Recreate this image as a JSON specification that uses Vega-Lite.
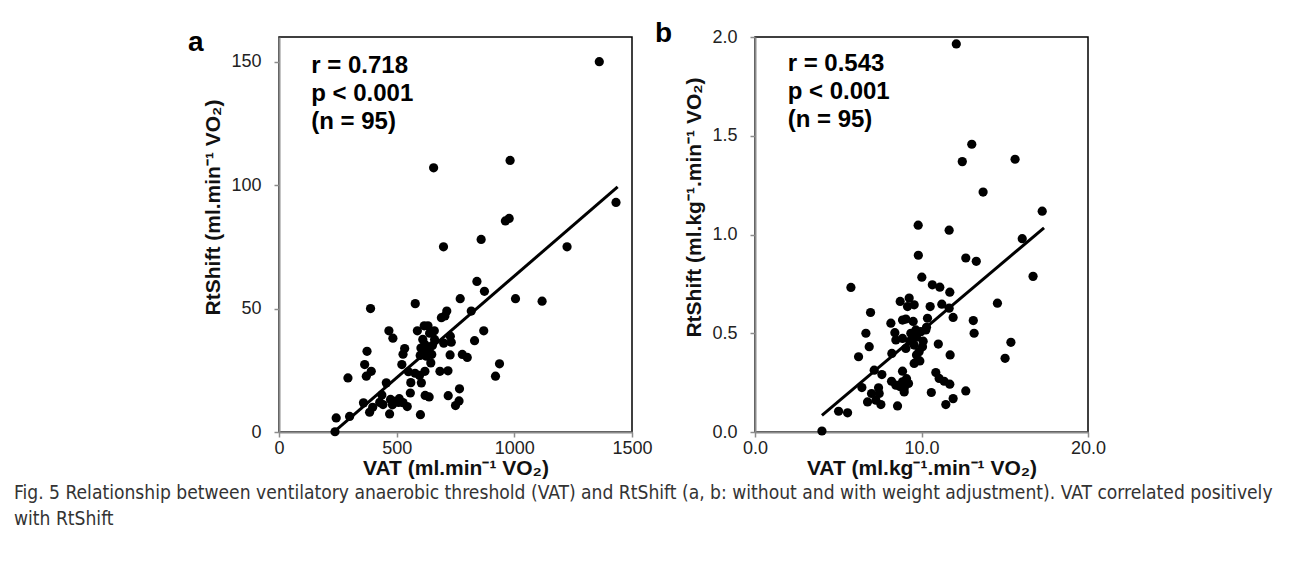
{
  "$schema": "https://vega.github.io/schema/vega-lite/v6.json",
  "padding": {"left": 14, "top": 19, "right": 5, "bottom": 4},
  "title": {
    "text": ["Fig. 5 Relationship between ventilatory anaerobic threshold (VAT) and RtShift (a, b: without and with weight adjustment). VAT correlated positively", "with RtShift"],
    "orient": "bottom", "anchor": "start", "frame": "group", "dx": -265, "offset": 5,
    "font": "DejaVu Sans Condensed, Open Sans", "fontSize": 19.1, "fontWeight": "normal", "color": "#333", "lineHeight": 26
  },
  "spacing": 1,
  "hconcat": [
    {
      "width": 353, "height": 395,
      "title": {"text": "a", "anchor": "start", "frame": "bounds", "orient": "top", "fontSize": 28, "fontWeight": "bold", "offset": -20, "dx": -15, "color": "#000"},
      "layer": [
        {
          "data": {"values": [
            {"vat":1361,"rtshift":150},{"vat":657,"rtshift":107},{"vat":982,"rtshift":110},{"vat":1432,"rtshift":93},
            {"vat":962,"rtshift":85.5},{"vat":978,"rtshift":86.5},{"vat":859,"rtshift":78},{"vat":699,"rtshift":75},
            {"vat":1224,"rtshift":75},{"vat":841,"rtshift":61},{"vat":873,"rtshift":57},{"vat":1005,"rtshift":54},
            {"vat":1118,"rtshift":53},{"vat":770,"rtshift":54},{"vat":579,"rtshift":52},{"vat":389,"rtshift":50},
            {"vat":713,"rtshift":49},{"vat":817,"rtshift":49},{"vat":690,"rtshift":46.3},{"vat":705,"rtshift":47},
            {"vat":633,"rtshift":43},{"vat":588,"rtshift":41},{"vat":870,"rtshift":41},{"vat":467,"rtshift":41},
            {"vat":484,"rtshift":38},{"vat":611,"rtshift":37.5},{"vat":661,"rtshift":37.5},{"vat":619,"rtshift":35.5},
            {"vat":728,"rtshift":38.8},{"vat":732,"rtshift":36.4},{"vat":831,"rtshift":37},{"vat":374,"rtshift":32.7},
            {"vat":534,"rtshift":33.8},{"vat":527,"rtshift":31.5},{"vat":626,"rtshift":33.4},{"vat":626,"rtshift":30.7},
            {"vat":649,"rtshift":31.4},{"vat":727,"rtshift":31.2},{"vat":779,"rtshift":31.4},{"vat":800,"rtshift":30.2},
            {"vat":364,"rtshift":27.3},{"vat":522,"rtshift":27.3},{"vat":392,"rtshift":24.6},{"vat":371,"rtshift":22.6},
            {"vat":293,"rtshift":21.9},{"vat":550,"rtshift":24.4},{"vat":578,"rtshift":23.8},{"vat":597,"rtshift":22.9},
            {"vat":620,"rtshift":24.6},{"vat":605,"rtshift":19.9},{"vat":684,"rtshift":24.6},{"vat":718,"rtshift":24.8},
            {"vat":937,"rtshift":27.6},{"vat":920,"rtshift":22.6},{"vat":456,"rtshift":19.9},{"vat":558,"rtshift":15.8},
            {"vat":621,"rtshift":14.8},{"vat":638,"rtshift":14.2},{"vat":719,"rtshift":14.7},{"vat":767,"rtshift":17.5},
            {"vat":765,"rtshift":12.6},{"vat":750,"rtshift":10.7},{"vat":437,"rtshift":15},{"vat":428,"rtshift":12},
            {"vat":442,"rtshift":11.1},{"vat":474,"rtshift":13.2},{"vat":491,"rtshift":12.4},{"vat":511,"rtshift":13.5},
            {"vat":527,"rtshift":11.9},{"vat":545,"rtshift":10.3},{"vat":359,"rtshift":11.8},{"vat":385,"rtshift":8},
            {"vat":470,"rtshift":7.3},{"vat":601,"rtshift":7},{"vat":300,"rtshift":6.3},{"vat":243,"rtshift":5.7},
            {"vat":238,"rtshift":0.1},{"vat":640,"rtshift":40},{"vat":652,"rtshift":35},{"vat":603,"rtshift":34},
            {"vat":617,"rtshift":43},{"vat":645,"rtshift":28},{"vat":660,"rtshift":41},{"vat":508,"rtshift":12},
            {"vat":398,"rtshift":10},{"vat":482,"rtshift":11},{"vat":600,"rtshift":31},{"vat":700,"rtshift":36},
            {"vat":560,"rtshift":20}
          ]},
          "mark": {"type": "circle", "size": 85, "opacity": 1, "color": "#000"},
          "encoding": {
            "x": {"field": "vat", "type": "quantitative", "scale": {"domain": [0, 1500], "nice": false}, "axis": {"values": [0, 500, 1000, 1500], "format": "d", "title": "VAT (ml.min⁻¹ VO₂)"}},
            "y": {"field": "rtshift", "type": "quantitative", "scale": {"domain": [0, 160], "nice": false}, "axis": {"values": [0, 50, 100, 150], "format": "d", "title": "RtShift (ml.min⁻¹ VO₂)"}}
          }
        },
        {
          "data": {"values": [{"vat": 243.7, "rtshift": 0.9}, {"vat": 1439, "rtshift": 99.3}]},
          "mark": {"type": "line", "color": "#000", "strokeWidth": 3},
          "encoding": {
            "x": {"field": "vat", "type": "quantitative"},
            "y": {"field": "rtshift", "type": "quantitative"}
          }
        },
        {
          "data": {"values": [{"label": "r = 0.718\np < 0.001\n(n = 95)"}]},
          "mark": {"type": "text", "align": "left", "baseline": "top", "fontSize": 24, "fontWeight": "bold", "lineBreak": "\n", "lineHeight": 28, "color": "#000"},
          "encoding": {
            "x": {"datum": 137, "type": "quantitative"},
            "y": {"datum": 153, "type": "quantitative"},
            "text": {"field": "label"}
          }
        }
      ]
    },
    {
      "width": 333, "height": 395,
      "title": {"text": "b", "anchor": "start", "frame": "bounds", "orient": "top", "fontSize": 28, "fontWeight": "bold", "offset": -20, "dx": -29, "color": "#000"},
      "layer": [
        {
          "data": {"values": [
            {"vat":12.09,"rtshift":1.965},{"vat":13.02,"rtshift":1.457},{"vat":12.45,"rtshift":1.369},{"vat":15.62,"rtshift":1.381},
            {"vat":13.70,"rtshift":1.215},{"vat":17.25,"rtshift":1.118},{"vat":9.80,"rtshift":1.047},{"vat":11.66,"rtshift":1.022},
            {"vat":16.05,"rtshift":0.979},{"vat":9.81,"rtshift":0.895},{"vat":12.66,"rtshift":0.881},{"vat":13.29,"rtshift":0.864},
            {"vat":16.70,"rtshift":0.788},{"vat":10.02,"rtshift":0.784},{"vat":5.76,"rtshift":0.732},{"vat":10.65,"rtshift":0.745},
            {"vat":11.10,"rtshift":0.733},{"vat":11.70,"rtshift":0.708},{"vat":8.72,"rtshift":0.661},{"vat":9.26,"rtshift":0.678},
            {"vat":9.56,"rtshift":0.644},{"vat":9.16,"rtshift":0.635},{"vat":10.52,"rtshift":0.635},{"vat":11.22,"rtshift":0.647},
            {"vat":11.66,"rtshift":0.627},{"vat":14.56,"rtshift":0.652},{"vat":6.94,"rtshift":0.605},{"vat":10.36,"rtshift":0.576},
            {"vat":11.90,"rtshift":0.58},{"vat":13.11,"rtshift":0.564},{"vat":8.16,"rtshift":0.551},{"vat":8.86,"rtshift":0.567},
            {"vat":9.06,"rtshift":0.572},{"vat":8.40,"rtshift":0.503},{"vat":8.46,"rtshift":0.466},{"vat":9.36,"rtshift":0.5},
            {"vat":9.66,"rtshift":0.517},{"vat":9.96,"rtshift":0.508},{"vat":10.26,"rtshift":0.517},{"vat":6.66,"rtshift":0.5},
            {"vat":13.16,"rtshift":0.5},{"vat":6.86,"rtshift":0.432},{"vat":8.86,"rtshift":0.474},{"vat":9.06,"rtshift":0.423},
            {"vat":9.56,"rtshift":0.44},{"vat":10.06,"rtshift":0.432},{"vat":11.01,"rtshift":0.445},{"vat":15.37,"rtshift":0.454},
            {"vat":6.22,"rtshift":0.381},{"vat":8.22,"rtshift":0.398},{"vat":9.70,"rtshift":0.39},{"vat":9.86,"rtshift":0.407},
            {"vat":9.56,"rtshift":0.347},{"vat":11.72,"rtshift":0.39},{"vat":15.02,"rtshift":0.373},{"vat":7.16,"rtshift":0.313},
            {"vat":7.62,"rtshift":0.291},{"vat":8.86,"rtshift":0.308},{"vat":10.86,"rtshift":0.301},{"vat":11.06,"rtshift":0.271},
            {"vat":11.36,"rtshift":0.257},{"vat":11.70,"rtshift":0.242},{"vat":6.42,"rtshift":0.225},{"vat":7.42,"rtshift":0.224},
            {"vat":7.46,"rtshift":0.195},{"vat":8.20,"rtshift":0.257},{"vat":8.46,"rtshift":0.237},{"vat":8.86,"rtshift":0.254},
            {"vat":9.22,"rtshift":0.246},{"vat":8.96,"rtshift":0.22},{"vat":8.96,"rtshift":0.203},{"vat":10.59,"rtshift":0.2},
            {"vat":12.66,"rtshift":0.208},{"vat":7.0,"rtshift":0.195},{"vat":6.76,"rtshift":0.152},{"vat":7.26,"rtshift":0.161},
            {"vat":7.56,"rtshift":0.139},{"vat":8.56,"rtshift":0.132},{"vat":11.46,"rtshift":0.139},{"vat":11.90,"rtshift":0.169},
            {"vat":5.02,"rtshift":0.105},{"vat":5.56,"rtshift":0.097},{"vat":4.02,"rtshift":0.005},{"vat":9.3,"rtshift":0.46},
            {"vat":9.7,"rtshift":0.48},{"vat":10.1,"rtshift":0.46},{"vat":9.9,"rtshift":0.36},{"vat":8.7,"rtshift":0.23},
            {"vat":9.1,"rtshift":0.27},{"vat":10.3,"rtshift":0.53},{"vat":9.5,"rtshift":0.56}
          ]},
          "mark": {"type": "circle", "size": 85, "opacity": 1, "color": "#000"},
          "encoding": {
            "x": {"field": "vat", "type": "quantitative", "scale": {"domain": [0, 20], "nice": false}, "axis": {"values": [0, 10, 20], "format": ".1f", "title": "VAT (ml.kg⁻¹.min⁻¹ VO₂)"}},
            "y": {"field": "rtshift", "type": "quantitative", "scale": {"domain": [0, 2], "nice": false}, "axis": {"values": [0, 0.5, 1, 1.5, 2], "format": ".1f", "title": "RtShift (ml.kg⁻¹.min⁻¹ VO₂)"}}
          }
        },
        {
          "data": {"values": [{"vat": 4.02, "rtshift": 0.084}, {"vat": 17.36, "rtshift": 1.034}]},
          "mark": {"type": "line", "color": "#000", "strokeWidth": 3},
          "encoding": {
            "x": {"field": "vat", "type": "quantitative"},
            "y": {"field": "rtshift", "type": "quantitative"}
          }
        },
        {
          "data": {"values": [{"label": "r = 0.543\np < 0.001\n(n = 95)"}]},
          "mark": {"type": "text", "align": "left", "baseline": "top", "fontSize": 24, "fontWeight": "bold", "lineBreak": "\n", "lineHeight": 28, "color": "#000"},
          "encoding": {
            "x": {"datum": 1.96, "type": "quantitative"},
            "y": {"datum": 1.923, "type": "quantitative"},
            "text": {"field": "label"}
          }
        }
      ]
    }
  ],
  "config": {
    "view": {"stroke": "#000", "strokeWidth": 1.5},
    "axis": {
      "grid": false, "domainColor": "#8c8c8c", "domainWidth": 2, "tickColor": "#8c8c8c", "tickWidth": 1.5, "tickSize": 5,
      "labelFont": "Liberation Sans", "labelFontSize": 18, "labelColor": "#222", "labelFlush": false, "labelOverlap": false,
      "titleFont": "Liberation Sans", "titleFontSize": 21, "titleFontWeight": "bold", "titleColor": "#111", "zindex": 1
    },
    "axisX": {"labelPadding": 2, "titlePadding": 0},
    "axisY": {"labelPadding": 13, "titlePadding": 7, "titleY": 170},
    "title": {"font": "Liberation Sans"},
    "text": {"font": "Liberation Sans"}
  }
}
